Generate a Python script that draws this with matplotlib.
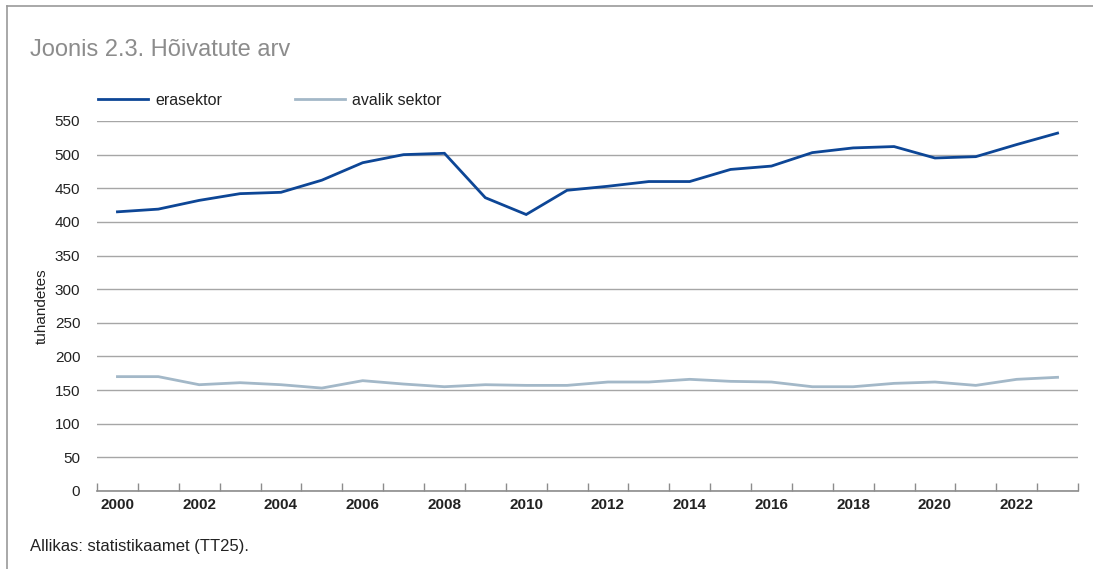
import matplotlib
matplotlib.use('Agg')
from matplotlib import pyplot as plt
from matplotlib.lines import Line2D
import numpy as np

plt.rcParams['font.family'] = ['Liberation Sans', 'DejaVu Sans']

years = list(range(2000, 2024))
erasektor = [415, 419, 432, 442, 444, 462, 488, 500, 502, 436, 411, 447,
             453, 460, 460, 478, 483, 503, 510, 512, 495, 497, 515, 532]
avalik = [170, 170, 158, 161, 158, 153, 164, 159, 155, 158, 157, 157,
          162, 162, 166, 163, 162, 155, 155, 160, 162, 157, 166, 169]
yticks = list(range(0, 551, 50))

fig = plt.figure(figsize=(10.93, 5.69), dpi=100)
ax = fig.add_axes([97/1093, 78/569, 981/1093, 370/569])

x = np.arange(len(years)) + 0.5
ax.plot(x, avalik, color='#a3b8c8', lw=2.0, solid_joinstyle='miter')
ax.plot(x, erasektor, color='#0d4696', lw=2.0, solid_joinstyle='miter')

ax.set_xlim(0, len(years))
ax.set_ylim(0, 550)
ax.set_yticks(yticks)
ax.set_yticklabels([str(v) for v in yticks], fontsize=11, color='#222222')
ax.set_xticks(np.arange(len(years) + 1), minor=False)
ax.set_xticklabels([])
ax.set_xticks(x[::2], minor=True)
ax.set_xticklabels([str(y) for y in years[::2]], minor=True,
                   fontsize=11, fontweight='bold', color='#222222')
ax.tick_params(axis='x', which='major', direction='in', length=6,
               color='#8c8c8c', width=1)
ax.tick_params(axis='x', which='minor', length=0, pad=5)
ax.tick_params(axis='y', length=0, pad=12)
ax.grid(axis='y', color='#a6a6a6', lw=1)
ax.set_axisbelow(True)
for s in ['top', 'right', 'left']:
    ax.spines[s].set_visible(False)
ax.spines['bottom'].set_color('#8c8c8c')
ax.spines['bottom'].set_linewidth(1.2)

ax.set_ylabel('tuhandetes', fontsize=11, color='#222222')
ax.yaxis.set_label_coords(-48/981, 0.5)

fig.text(30/1093, 1 - 50/569, 'Joonis 2.3. Hõivatute arv', fontsize=17,
         color='#8c8c8c', va='center', ha='left')
fig.text(30/1093, 1 - 546/569, 'Allikas: statistikaamet (TT25).', fontsize=12,
         color='#222222', va='center', ha='left')

handles = [Line2D([], [], color='#0d4696', lw=2.0),
           Line2D([], [], color='#a3b8c8', lw=2.0)]
fig.legend(handles, ['erasektor', 'avalik sektor'], loc='center left',
           bbox_to_anchor=(84/1093, 1 - 100/569), ncol=2, frameon=False,
           fontsize=11.5, handlelength=3.1, handletextpad=0.45,
           columnspacing=4.6, labelcolor='#222222')

# frame lines (top and left)
fig.add_artist(Line2D([7/1093, 1], [1 - 6/569, 1 - 6/569], color='#9a9a9a',
                      lw=1.2, transform=fig.transFigure))
fig.add_artist(Line2D([7/1093, 7/1093], [0, 1 - 6/569], color='#9a9a9a',
                      lw=1.2, transform=fig.transFigure))

fig.savefig('out.png', dpi=100)
